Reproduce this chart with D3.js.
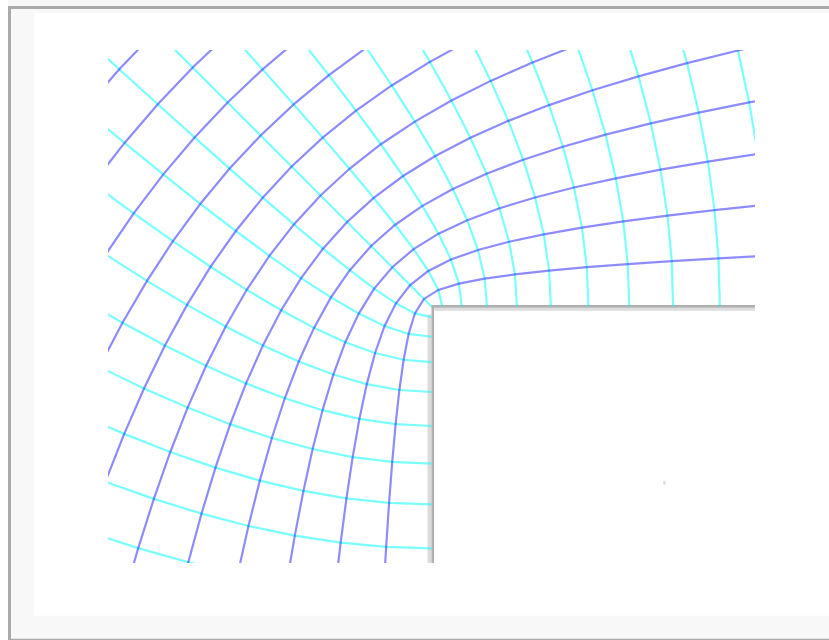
<!DOCTYPE html>
<html>
<head>
<meta charset="utf-8">
<script src="https://cdn.jsdelivr.net/npm/d3@7"></script>
<style>
  html, body { margin: 0; padding: 0; background: #ffffff; }
  svg { display: block; }
</style>
</head>
<body>
<svg id="chart" width="829" height="640"></svg>
<script>
// ---- data (complex potential w = phi + i*psi, flow round a 270-degree corner, z = w^(3/2)) ----
const potentialLevels = [-1.1, -1.0, -0.9, -0.8, -0.7, -0.6, -0.5, -0.4, -0.3, -0.2, -0.1, 0.0,
                          0.1, 0.2, 0.3, 0.4, 0.5, 0.6, 0.7, 0.8, 0.9, 1.0, 1.1];
const streamLevels = [0.0, 0.1, 0.2, 0.3, 0.4, 0.5, 0.6, 0.7, 0.8, 0.9, 1.0, 1.1, 1.2, 1.3];
const xExtent = [-0.958, 0.958];
const yExtent = [-0.759, 0.759];

// ---- layout ----
const W = 829, H = 640;
const plot = { left: 108, right: 755, top: 50, bottom: 563 };

const svg = d3.select("#chart");

// page frame
svg.append("rect").attr("x", 8).attr("y", 0).attr("width", W - 8).attr("height", 6).attr("fill", "#f7f7f7");
svg.append("rect").attr("x", 8).attr("y", 6).attr("width", W - 8).attr("height", H - 6).attr("fill", "#f8f8f8");
svg.append("rect").attr("x", 34).attr("y", 13).attr("width", W - 34).attr("height", 615.7 - 13).attr("fill", "#ffffff");
svg.append("rect").attr("x", 8).attr("y", 6).attr("width", 3).attr("height", H - 6).attr("fill", "#aaaaaa");
svg.append("rect").attr("x", 8).attr("y", 6).attr("width", W - 8).attr("height", 3).attr("fill", "#aaaaaa");
svg.append("rect").attr("x", 8).attr("y", 638.7).attr("width", W - 8).attr("height", 2).attr("fill", "#aaaaaa");

const x = d3.scaleLinear().domain(xExtent).range([plot.left, plot.right]);
const y = d3.scaleLinear().domain(yExtent).range([plot.bottom, plot.top]);

svg.append("clipPath").attr("id", "plotClip")
  .append("rect")
  .attr("x", plot.left).attr("y", plot.top)
  .attr("width", plot.right - plot.left).attr("height", plot.bottom - plot.top);

// conformal map z = w^(3/2)
function toZ(phi, psi) {
  const r = Math.hypot(phi, psi);
  const a = Math.atan2(psi, phi);
  const R = Math.pow(r, 1.5), A = 1.5 * a;
  return [R * Math.cos(A), R * Math.sin(A)];
}

const line = d3.line().x(d => x(d[0])).y(d => y(d[1]));

// wall (corner obstacle)
const x0 = x(0), y0 = y(0);
const wall = svg.append("g");
wall.append("rect").attr("x", x0 + 2.5).attr("y", y0 + 1.2).attr("width", plot.right - x0 - 2.5).attr("height", 3)
  .attr("fill", "#dcdcdc");
wall.append("rect").attr("x", x0 - 4).attr("y", y0 + 8).attr("width", 4).attr("height", plot.bottom - y0 - 8)
  .attr("fill", "#dcdcdc");
wall.append("rect").attr("x", x0).attr("y", y0 - 1.5).attr("width", plot.right - x0).attr("height", 2.7)
  .attr("fill", "#b0b0b0");
wall.append("rect").attr("x", x0).attr("y", y0 - 1.5).attr("width", 2.5).attr("height", plot.bottom - y0 + 1.5)
  .attr("fill", "#b0b0b0");

const g = svg.append("g").attr("clip-path", "url(#plotClip)");

// equipotential lines (cyan)
g.append("g").selectAll("path")
  .data(potentialLevels)
  .join("path")
  .attr("d", phi => line(streamLevels.map(psi => toZ(phi, psi))))
  .attr("fill", "none")
  .attr("stroke", "rgba(0,255,255,0.52)")
  .attr("stroke-width", 2.2);

// streamlines (blue)
g.append("g").selectAll("path")
  .data(streamLevels.filter(p => p > 0))
  .join("path")
  .attr("d", psi => line(potentialLevels.map(phi => toZ(phi, psi))))
  .attr("fill", "none")
  .attr("stroke", "rgba(0,0,255,0.45)")
  .attr("stroke-width", 2.2);

// small stray mark
svg.append("rect").attr("x", 663.3).attr("y", 481).attr("width", 2.3).attr("height", 3.7).attr("fill", "#dddddd");
</script>
</body>
</html>
